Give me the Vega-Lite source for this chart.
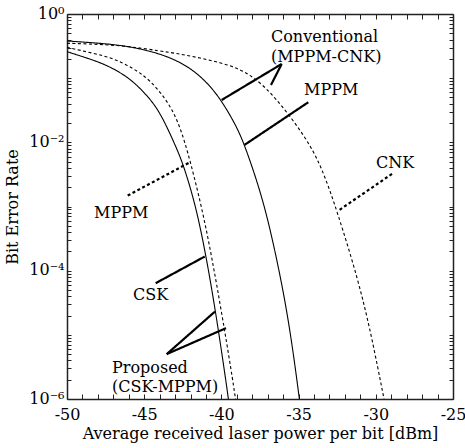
{
  "$schema": "https://vega.github.io/schema/vega-lite/v6.json",
  "width": 386,
  "height": 385,
  "autosize": "none",
  "padding": {"left": 67, "top": 14, "right": 12, "bottom": 49},
  "background": "white",
  "config": {
    "font": "DejaVu Serif",
    "view": {"stroke": null},
    "axis": {
      "grid": false,
      "domainColor": "#222",
      "domainWidth": 1.5,
      "tickColor": "#222",
      "tickWidth": 1,
      "labelColor": "black",
      "titleColor": "black",
      "labelFontSize": 16,
      "titleFontSize": 16,
      "titleFontWeight": "normal",
      "labelOverlap": false,
      "labelFlush": false
    }
  },
  "datasets": {
    "curves": [
      {"series": "Proposed CSK", "x": -50, "ber": 0.2587},
      {"series": "Proposed CSK", "x": -48.297, "ber": 0.1921},
      {"series": "Proposed CSK", "x": -47.215, "ber": 0.151},
      {"series": "Proposed CSK", "x": -45.92, "ber": 0.09963},
      {"series": "Proposed CSK", "x": -44.838, "ber": 0.05473},
      {"series": "Proposed CSK", "x": -43.977, "ber": 0.03007},
      {"series": "Proposed CSK", "x": -42.895, "ber": 0.008093},
      {"series": "Proposed CSK", "x": -42.422, "ber": 0.004183},
      {"series": "Proposed CSK", "x": -41.645, "ber": 0.000996},
      {"series": "Proposed CSK", "x": -40.984, "ber": 0.0001658},
      {"series": "Proposed CSK", "x": -40.363, "ber": 0.00002201},
      {"series": "Proposed CSK", "x": -39.78, "ber": 0.000002531},
      {"series": "Proposed CSK", "x": -39.547, "ber": 0.000001},
      {"series": "Proposed MPPM", "x": -50, "ber": 0.3029},
      {"series": "Proposed MPPM", "x": -48.297, "ber": 0.2443},
      {"series": "Proposed MPPM", "x": -47.001, "ber": 0.2042},
      {"series": "Proposed MPPM", "x": -45.706, "ber": 0.1427},
      {"series": "Proposed MPPM", "x": -44.624, "ber": 0.09376},
      {"series": "Proposed MPPM", "x": -43.543, "ber": 0.04575},
      {"series": "Proposed MPPM", "x": -42.843, "ber": 0.02233},
      {"series": "Proposed MPPM", "x": -42.228, "ber": 0.008093},
      {"series": "Proposed MPPM", "x": -41.276, "ber": 0.000996},
      {"series": "Proposed MPPM", "x": -40.628, "ber": 0.0001658},
      {"series": "Proposed MPPM", "x": -39.981, "ber": 0.00002201},
      {"series": "Proposed MPPM", "x": -39.333, "ber": 0.000002531},
      {"series": "Proposed MPPM", "x": -39.087, "ber": 0.000001},
      {"series": "Conventional MPPM", "x": -50, "ber": 0.3797},
      {"series": "Conventional MPPM", "x": -48.297, "ber": 0.3573},
      {"series": "Conventional MPPM", "x": -46.133, "ber": 0.3208},
      {"series": "Conventional MPPM", "x": -43.977, "ber": 0.2443},
      {"series": "Conventional MPPM", "x": -42.247, "ber": 0.1605},
      {"series": "Conventional MPPM", "x": -40.952, "ber": 0.0882},
      {"series": "Conventional MPPM", "x": -39.981, "ber": 0.04462},
      {"series": "Conventional MPPM", "x": -39.009, "ber": 0.01756},
      {"series": "Conventional MPPM", "x": -38.504, "ber": 0.00911},
      {"series": "Conventional MPPM", "x": -37.714, "ber": 0.002596},
      {"series": "Conventional MPPM", "x": -36.962, "ber": 0.0006184},
      {"series": "Conventional MPPM", "x": -35.991, "ber": 0.00005022},
      {"series": "Conventional MPPM", "x": -35.395, "ber": 0.000006573},
      {"series": "Conventional MPPM", "x": -34.95, "ber": 0.000001},
      {"series": "Conventional CNK", "x": -50, "ber": 0.3497},
      {"series": "Conventional CNK", "x": -48.297, "ber": 0.341},
      {"series": "Conventional CNK", "x": -46.133, "ber": 0.3174},
      {"series": "Conventional CNK", "x": -43.977, "ber": 0.2653},
      {"series": "Conventional CNK", "x": -42.681, "ber": 0.2382},
      {"series": "Conventional CNK", "x": -41.386, "ber": 0.2063},
      {"series": "Conventional CNK", "x": -40.091, "ber": 0.1756},
      {"series": "Conventional CNK", "x": -38.795, "ber": 0.1391},
      {"series": "Conventional CNK", "x": -37.824, "ber": 0.0989},
      {"series": "Conventional CNK", "x": -36.852, "ber": 0.06161},
      {"series": "Conventional CNK", "x": -35.343, "ber": 0.02233},
      {"series": "Conventional CNK", "x": -34.048, "ber": 0.007613},
      {"series": "Conventional CNK", "x": -33.29, "ber": 0.002922},
      {"series": "Conventional CNK", "x": -32.532, "ber": 0.0008851},
      {"series": "Conventional CNK", "x": -31.133, "ber": 0.00007191},
      {"series": "Conventional CNK", "x": -30.265, "ber": 0.000009408},
      {"series": "Conventional CNK", "x": -29.469, "ber": 0.000001}
    ],
    "pointers": [
      {"kind": "solid", "x": -36.095, "y": 0.1664, "x2": -39.981, "y2": 0.04575},
      {"kind": "solid", "x": -36.095, "y": 0.1664, "x2": -36.788, "y2": 0.07836},
      {"kind": "solid", "x": -34.372, "y": 0.04213, "x2": -38.504, "y2": 0.00911},
      {"kind": "dotted", "x": -28.951, "y": 0.00322, "x2": -32.448, "y2": 0.000854},
      {"kind": "dotted", "x": -46.069, "y": 0.001479, "x2": -42.118, "y2": 0.004776},
      {"kind": "solid", "x": -44.255, "y": 0.00006387, "x2": -41.082, "y2": 0.0001658},
      {"kind": "solid", "x": -43.543, "y": 0.000005005, "x2": -40.415, "y2": 0.00002306},
      {"kind": "solid", "x": -43.543, "y": 0.000005005, "x2": -39.702, "y2": 0.00001272}
    ],
    "labels": [
      {"label": "Conventional", "x": -36.788, "y": 0.4383},
      {"label": "(MPPM-CNK)", "x": -36.788, "y": 0.2139},
      {"label": "MPPM", "x": -34.65, "y": 0.06548},
      {"label": "CNK", "x": -29.987, "y": 0.004776},
      {"label": "MPPM", "x": -48.251, "y": 0.0008035},
      {"label": "CSK", "x": -45.725, "y": 0.00004199},
      {"label": "Proposed", "x": -47.085, "y": 0.000003095},
      {"label": "(CSK-MPPM)", "x": -47.085, "y": 0.000001566}
    ]
  },
  "layer": [
    {
      "data": {"name": "curves"},
      "mark": {"type": "line", "interpolate": "basis", "color": "black", "strokeWidth": 1.1, "clip": true},
      "encoding": {
        "x": {
          "field": "x", "type": "quantitative",
          "scale": {"domain": [-50, -25], "nice": false, "zero": false},
          "axis": {
            "orient": "bottom",
            "title": "Average received laser power per bit [dBm]",
            "values": [-50,-49,-48,-47,-46,-45,-44,-43,-42,-41,-40,-39,-38,-37,-36,-35,-34,-33,-32,-31,-30,-29,-28,-27,-26,-25],
            "labelExpr": "datum.value % 5 == 0 ? '' + datum.value : ''",
            "tickSize": -5,
            "labelPadding": 12,
            "titlePadding": 3
          }
        },
        "y": {
          "field": "ber", "type": "quantitative",
          "scale": {"type": "log", "domain": [0.000001, 1], "nice": false},
          "axis": {
            "orient": "left",
            "title": "Bit Error Rate",
            "values": [0.000001,0.000002,0.000003,0.000004,0.000005,0.000006,0.000007,0.000008,0.000009,0.00001,0.00002,0.00003,0.00004,0.00005,0.00006,0.00007,0.00008,0.00009,0.0001,0.0002,0.0003,0.0004,0.0005,0.0006,0.0007,0.0008,0.0009,0.001,0.002,0.003,0.004,0.005,0.006,0.007,0.008,0.009,0.01,0.02,0.03,0.04,0.05,0.06,0.07,0.08,0.09,0.1,0.2,0.3,0.4,0.5,0.6,0.7,0.8,0.9,1],
            "labelExpr": "abs(log(datum.value)/LN10 - round(log(datum.value)/LN10)) < 0.01 && round(log(datum.value)/LN10) % 2 == 0 ? (round(log(datum.value)/LN10) == 0 ? '10⁰' : round(log(datum.value)/LN10) == -2 ? '10⁻²' : round(log(datum.value)/LN10) == -4 ? '10⁻⁴' : '10⁻⁶') : ''",
            "tickSize": -4,
            "labelPadding": 7,
            "labelOffset": -1,
            "titlePadding": 8
          }
        },
        "strokeDash": {
          "field": "series", "type": "nominal",
          "scale": {"domain": ["Proposed CSK", "Proposed MPPM", "Conventional MPPM", "Conventional CNK"], "range": [[1, 0], [3, 2.5], [1, 0], [3, 2.5]]},
          "legend": null
        }
      }
    },
    {
      "data": {"name": "pointers"},
      "mark": {"type": "rule", "color": "black", "strokeWidth": 2.2},
      "encoding": {
        "x": {
          "field": "x", "type": "quantitative",
          "axis": {
            "orient": "top", "title": null, "labels": false,
            "values": [-50,-49,-48,-47,-46,-45,-44,-43,-42,-41,-40,-39,-38,-37,-36,-35,-34,-33,-32,-31,-30,-29,-28,-27,-26,-25],
            "tickSize": -5
          }
        },
        "y": {
          "field": "y", "type": "quantitative",
          "axis": {
            "orient": "right", "title": null, "labels": false,
            "values": [0.000001,0.000002,0.000003,0.000004,0.000005,0.000006,0.000007,0.000008,0.000009,0.00001,0.00002,0.00003,0.00004,0.00005,0.00006,0.00007,0.00008,0.00009,0.0001,0.0002,0.0003,0.0004,0.0005,0.0006,0.0007,0.0008,0.0009,0.001,0.002,0.003,0.004,0.005,0.006,0.007,0.008,0.009,0.01,0.02,0.03,0.04,0.05,0.06,0.07,0.08,0.09,0.1,0.2,0.3,0.4,0.5,0.6,0.7,0.8,0.9,1],
            "tickSize": -4
          }
        },
        "x2": {"field": "x2"},
        "y2": {"field": "y2"},
        "strokeDash": {
          "field": "kind", "type": "nominal",
          "scale": {"domain": ["solid", "dotted"], "range": [[1, 0], [2, 2.5]]},
          "legend": null
        }
      }
    },
    {
      "data": {"name": "labels"},
      "mark": {"type": "text", "align": "left", "baseline": "middle", "fontSize": 16, "color": "black"},
      "encoding": {
        "x": {"field": "x", "type": "quantitative", "axis": null},
        "y": {"field": "y", "type": "quantitative", "axis": null},
        "text": {"field": "label"}
      }
    }
  ],
  "resolve": {"axis": {"x": "independent", "y": "independent"}}
}
